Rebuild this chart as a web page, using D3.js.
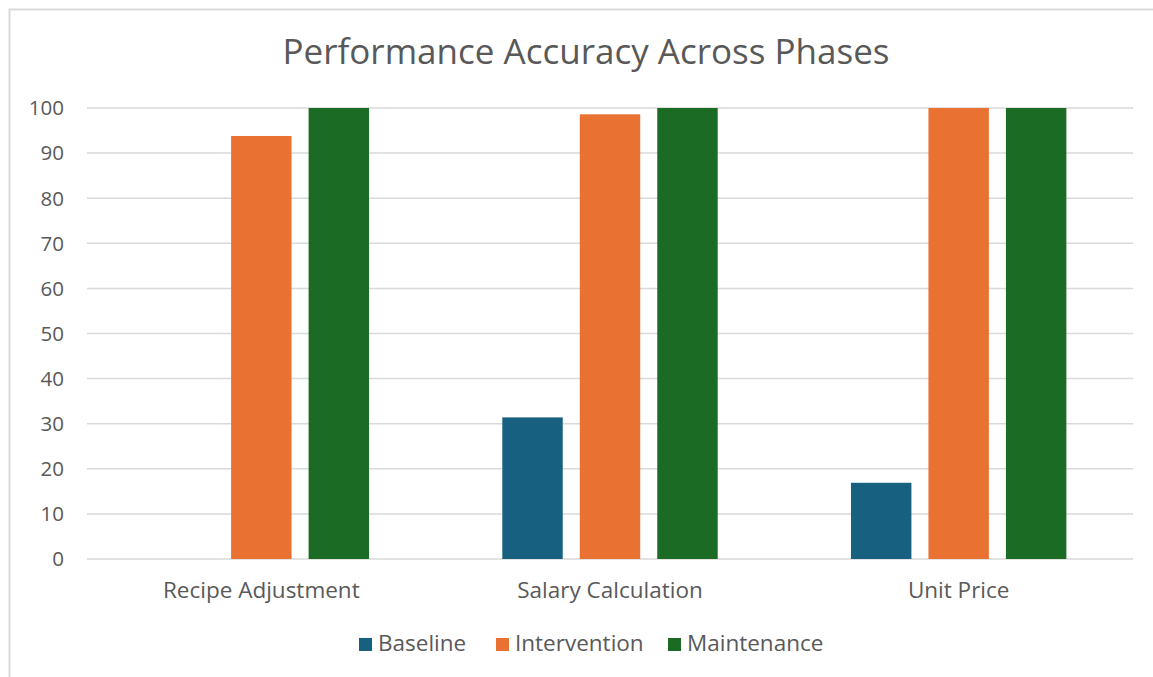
<!DOCTYPE html>
<html><head><meta charset="utf-8">
<script src="https://cdn.jsdelivr.net/npm/d3@7"></script>
<style>
html,body{margin:0;padding:0;background:#fff;}
svg{display:block;font-family:"Open Sans","Noto Sans",sans-serif;}
</style></head>
<body><svg id="c" width="1153" height="677"></svg>
<script>
const categories = ["Recipe Adjustment", "Salary Calculation", "Unit Price"];
const seriesNames = ["Baseline", "Intervention", "Maintenance"];
const baseline = [0, 31.4, 16.9];
const intervention = [93.8, 98.6, 100];
const maintenance = [100, 100, 100];
const yTicks = [0, 10, 20, 30, 40, 50, 60, 70, 80, 90, 100];
const colors = ["#17607f", "#e97132", "#1b6b24"];
const title = "Performance Accuracy Across Phases";

(function(){
const values = [baseline, intervention, maintenance];
const svg = d3.select("#c");
const mLeft = 87, mRight = 1133, mTop = 108, mBottom = 559;

// frame
svg.append("path").attr("d","M9.5,677 V9.5 H1153").attr("fill","none").attr("stroke","#d9d9d9").attr("stroke-width",2);

const x0 = d3.scaleBand().domain(categories).range([mLeft, mRight]).padding(0);
const x1 = d3.scaleBand().domain(seriesNames).range([0, x0.bandwidth()]).paddingInner(0.22).paddingOuter(0.86);
const y = d3.scaleLinear().domain([0, 100]).range([mBottom, mTop]);

// gridlines
svg.append("g").selectAll("line").data(yTicks).join("line")
  .attr("x1", mLeft).attr("x2", mRight)
  .attr("y1", d => y(d)).attr("y2", d => y(d))
  .attr("stroke", "#d9d9d9").attr("stroke-width", 1.5);

// y labels
svg.append("g").selectAll("text").data(yTicks).join("text")
  .attr("x", 64).attr("y", d => y(d)).attr("dy", "0.36em")
  .attr("text-anchor", "end").attr("fill", "#595959").attr("font-size", 20.5)
  .text(d => d);

// bars
const g = svg.append("g");
categories.forEach((c, ci) => {
  seriesNames.forEach((s, si) => {
    const v = values[si][ci];
    if (v <= 0) return;
    g.append("rect")
      .attr("x", x0(c) + x1(s)).attr("width", x1.bandwidth())
      .attr("y", y(v)).attr("height", y(0) - y(v))
      .attr("fill", colors[si]);
  });
});

// category labels
svg.append("g").selectAll("text").data(categories).join("text")
  .attr("x", d => x0(d) + x0.bandwidth()/2).attr("y", 598)
  .attr("text-anchor", "middle").attr("fill", "#595959").attr("font-size", 22.5)
  .text(d => d);

// title
svg.append("text").attr("x", 586).attr("y", 64).attr("text-anchor","middle")
  .attr("fill","#595959").attr("font-size", 35).text(title);

// legend
const legX = [359, 496, 668];
const leg = svg.append("g");
seriesNames.forEach((s, i) => {
  leg.append("rect").attr("x", legX[i]).attr("y", 638).attr("width", 13).attr("height", 13).attr("fill", colors[i]);
  leg.append("text").attr("x", legX[i] + 19).attr("y", 651).attr("fill","#595959").attr("font-size", 22.5).text(s);
});
})();
</script></body></html>
